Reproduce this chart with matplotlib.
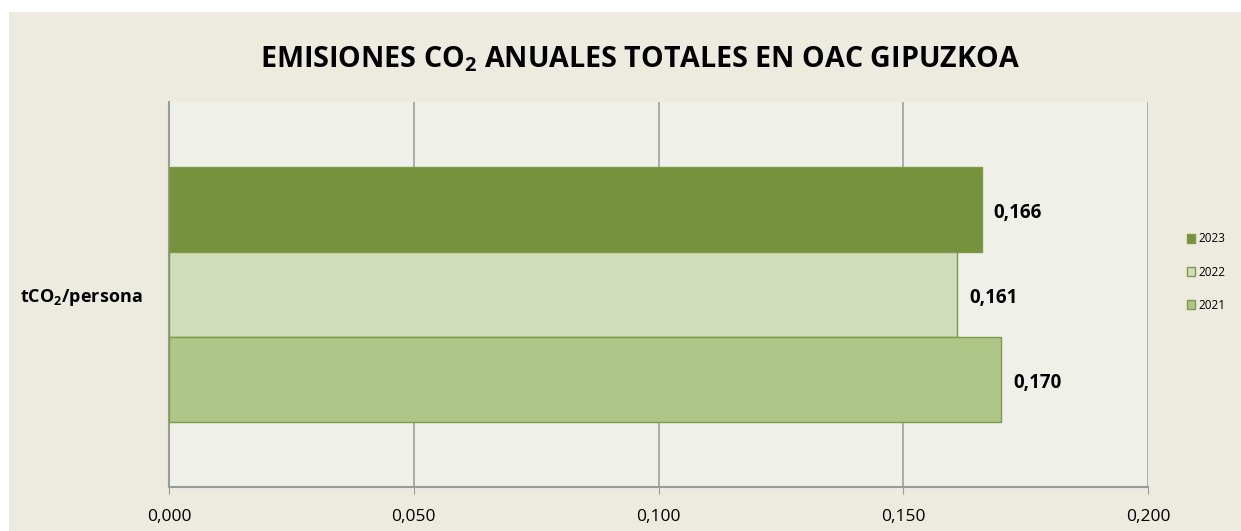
import matplotlib
matplotlib.use('Agg')
from matplotlib import pyplot as plt
import matplotlib.ticker as ticker
import numpy as np

# datos
categoria = r'tCO$_\mathbf{2}$/persona'
anios = ['2023', '2022', '2021']
valores = [0.166, 0.161, 0.170]
colores = ['#77923C', '#D0DDBB', '#AEC688']
x_ticks = [0.0, 0.05, 0.10, 0.15, 0.20]

plt.rcParams['font.family'] = ['Open Sans', 'DejaVu Sans']
plt.rcParams['mathtext.fontset'] = 'custom'
plt.rcParams['mathtext.rm'] = 'Open Sans'
plt.rcParams['mathtext.bf'] = 'Open Sans:bold'

fig = plt.figure(figsize=(12.41, 5.31), dpi=100)
W, H = 1241, 531
# fondo beige con borde blanco
fig.patch.set_facecolor('white')
fig.patches.append(plt.Rectangle((9 / W, 0), 1 - 9 / W, 1 - 12 / H, transform=fig.transFigure,
                                 facecolor='#EDEAE0', edgecolor='none', zorder=-5))

ax = fig.add_axes([169 / W, 1 - 487 / H, (1148 - 169) / W, (487 - 102) / H])
ax.set_facecolor('#EFF1E9')

h = 85 / 385
offsets = [h, 0, -h]
for anio, v, c, off in zip(anios, valores, colores, offsets):
    ax.barh(off, v, height=h, color=c, edgecolor='#7E9A4A', linewidth=1, label=anio, zorder=3)
    ax.text(v + 0.0025, off - 0.008, ('%.3f' % v).replace('.', ','), ha='left', va='center',
            fontsize=13.5, fontweight='bold', color='black', zorder=4)

ax.set_xlim(0, 0.2)
ax.set_ylim(-0.5, 0.5)
ax.xaxis.set_major_locator(ticker.FixedLocator(x_ticks))
ax.set_xticklabels([('%.3f' % t).replace('.', ',') for t in x_ticks], fontsize=12.5)
ax.tick_params(axis='x', length=5, color='#9A9A9A', pad=11)
ax.set_yticks([])
ax.grid(axis='x', color='#9A9A9A', linewidth=1.1, zorder=1)
for s in ['top', 'right']:
    ax.spines[s].set_visible(False)
ax.spines['left'].set_color('#9A9A9A')
ax.spines['bottom'].set_color('#9A9A9A')
ax.spines['left'].set_linewidth(1.5)
ax.spines['bottom'].set_linewidth(1.5)

fig.text(20 / W, 1 - 297 / H, categoria, fontsize=13, fontweight='bold', va='center', ha='left')

fig.text(640 / W, 1 - 59 / H, r'EMISIONES CO$_\mathbf{2}$ ANUALES TOTALES EN OAC GIPUZKOA',
         fontsize=20.6, fontweight='bold', ha='center', va='center')

leg = fig.legend(loc='center left', bbox_to_anchor=(1176 / W, 1 - 272 / H), frameon=False, fontsize=8.5,
                 handlelength=0.75, handleheight=0.75, labelspacing=1.7, handletextpad=0.25)

plt.savefig('out.png', dpi=100, facecolor=fig.get_facecolor())
